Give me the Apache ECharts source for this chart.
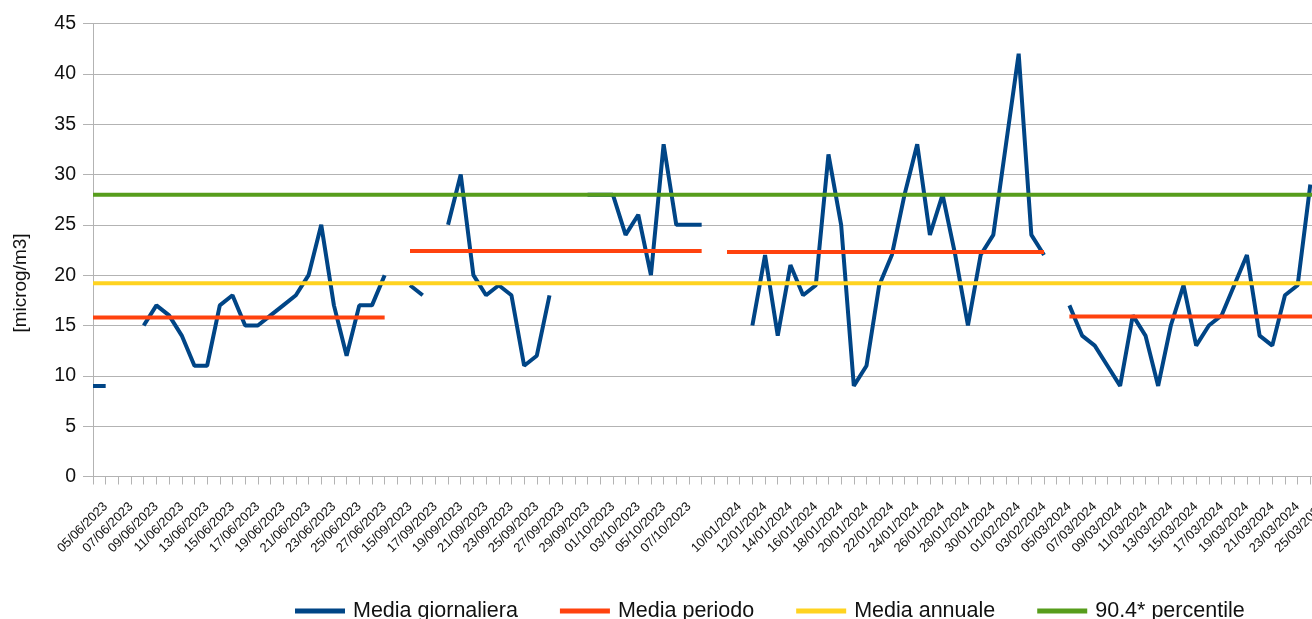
<!DOCTYPE html>
<html>
<head>
<meta charset="utf-8">
<title>Media giornaliera</title>
<script src="https://cdn.jsdelivr.net/npm/echarts/dist/echarts.min.js"></script>
<style>
  html, body { margin: 0; padding: 0; background: #fff; }
  #chart { width: 1312px; height: 619px; }
</style>
</head>
<body>
<div id="chart"></div>
<script>
// campagne di misura: primo giorno e numero di giorni
var periodStarts = ['2023-06-04', '2023-09-15', '2024-01-09', '2024-03-05']
var periodDays = [24, 24, 26, 21]

// media giornaliera [microg/m3], una lista per campagna (null = dato mancante)
var dailyP1 = [9, 9, null, null, 15, 17, 16, 14, 11, 11, 17, 18, 15, 15, 16, 17, 18, 20, 25, 17, 12, 17, 17, 20]
var dailyP2 = [19, 18, null, 25, 30, 20, 18, 19, 18, 11, 12, 18, null, null, 28, 28, 28, 24, 26, 20, 33, 25, 25, 25]
var dailyP3 = [null, null, 15, 22, 14, 21, 18, 19, 32, 25, 9, 11, 19, 22, 28, 33, 24, 28, 22, 15, 22, 24, 33, 42, 24, 22]
var dailyP4 = [17, 14, 13, 11, 9, 16, 14, 9, 15, 19, 13, 15, 16, 19, 22, 14, 13, 18, 19, 29, null]

// medie di periodo, media annuale e percentile
var periodMeans = [15.8, 22.4, 22.3, 15.9]
var annualMean = 19.2
var percentile904 = 28

var seriesNames = ['Media giornaliera', 'Media periodo', 'Media annuale', '90.4* percentile']
var colors = ['#004586', '#ff420e', '#ffd320', '#579d1c']

function pad(n) {
  return n < 10 ? '0' + n : '' + n
}

function dateLabels(start, days) {
  var d = new Date(start + 'T00:00:00Z')
  var out = []
  for (var i = 0; i < days; i++) {
    out.push(pad(d.getUTCDate()) + '/' + pad(d.getUTCMonth() + 1) + '/' + d.getUTCFullYear())
    d.setUTCDate(d.getUTCDate() + 1)
  }
  return out
}

// costruisco categorie e serie, con una riga vuota fra una campagna e l'altra
var daily = [dailyP1, dailyP2, dailyP3, dailyP4]
var categories = []
var dailyData = []
var periodData = []
var annualData = []
var percData = []
for (var p = 0; p < periodStarts.length; p++) {
  if (p > 0) {
    categories.push('')
    dailyData.push(null)
    periodData.push(null)
    annualData.push(annualMean)
    percData.push(percentile904)
  }
  var labels = dateLabels(periodStarts[p], periodDays[p])
  for (var i = 0; i < labels.length; i++) {
    categories.push(labels[i])
    dailyData.push(daily[p][i])
    periodData.push(periodMeans[p])
    annualData.push(annualMean)
    percData.push(percentile904)
  }
}

var font = 'Liberation Sans, Arial, sans-serif'
var chart = echarts.init(document.getElementById('chart'))

function lineSeries(idx, data) {
  return {
    name: seriesNames[idx],
    type: 'line',
    data: data,
    showSymbol: false,
    symbol: 'none',
    connectNulls: false,
    color: colors[idx],
    lineStyle: { color: colors[idx], width: 4 },
    emphasis: { disabled: true }
  }
}

chart.setOption({
  animation: false,
  color: colors,
  grid: {
    left: 93,
    top: 23.5,
    width: 1230,
    height: 453,
    outerBoundsMode: 'none'
  },
  legend: {
    left: 295,
    top: 600,
    padding: 0,
    icon: 'rect',
    itemWidth: 50,
    itemHeight: 5,
    itemGap: 42,
    data: seriesNames,
    textStyle: {
      fontFamily: font,
      fontSize: 21.5,
      color: '#111',
      padding: [0, 0, 0, 3]
    }
  },
  graphic: [
    {
      type: 'text',
      x: 20.5,
      y: 283,
      rotation: Math.PI / 2,
      style: {
        text: '[microg/m3]',
        font: '19px ' + font,
        fill: '#111',
        align: 'center',
        verticalAlign: 'middle'
      }
    }
  ],
  xAxis: {
    type: 'category',
    data: categories,
    boundaryGap: false,
    axisLine: { lineStyle: { color: '#b3b3b3', width: 1 } },
    axisTick: {
      interval: 0,
      length: 8,
      lineStyle: { color: '#b3b3b3' }
    },
    axisLabel: {
      interval: function (index) {
        return index % 2 === 1
      },
      rotate: 45,
      margin: 28,
      fontFamily: font,
      fontSize: 13,
      color: '#111'
    },
    splitLine: { show: false }
  },
  yAxis: {
    type: 'value',
    min: 0,
    max: 45,
    interval: 5,
    axisLine: { show: true, lineStyle: { color: '#b3b3b3', width: 1 } },
    axisTick: { show: true, length: 10, lineStyle: { color: '#b3b3b3' } },
    axisLabel: {
      margin: 17,
      fontFamily: font,
      fontSize: 19.5,
      color: '#111'
    },
    splitLine: { lineStyle: { color: '#b3b3b3', width: 1 } }
  },
  series: [
    lineSeries(0, dailyData),
    lineSeries(1, periodData),
    lineSeries(2, annualData),
    lineSeries(3, percData)
  ]
})
</script>
</body>
</html>
